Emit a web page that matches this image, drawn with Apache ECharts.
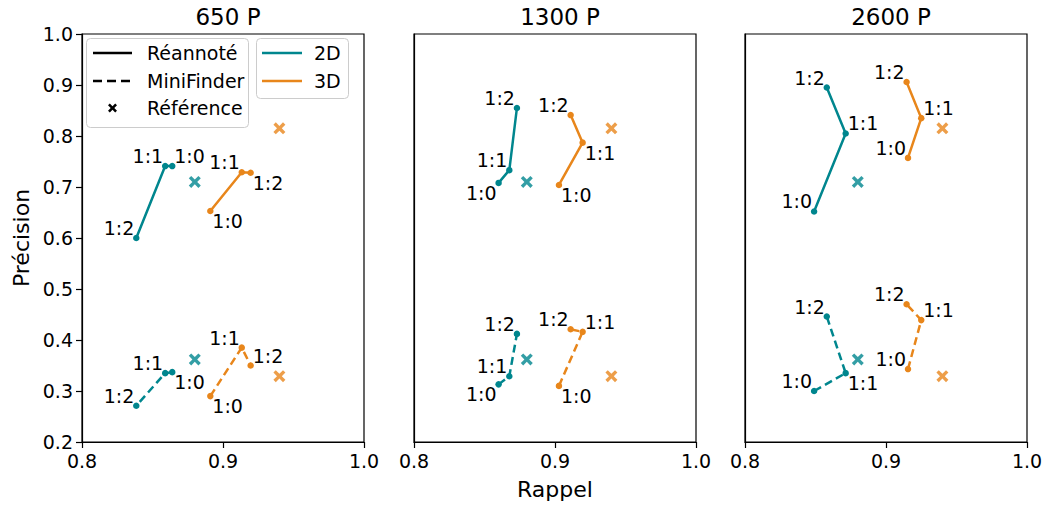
<!DOCTYPE html>
<html>
<head>
<meta charset="utf-8">
<script src="https://cdn.jsdelivr.net/npm/echarts@6/dist/echarts.min.js"></script>
<style>
  html, body { margin: 0; padding: 0; background: #ffffff; }
  #chart { width: 1047px; height: 507px; }
</style>
</head>
<body>
<div id="chart"></div>
<script>
// Panels: number of training pages
const panelTitles = ['650 P', '1300 P', '2600 P'];
// Point order along each curve
const ratios = ['1:0', '1:1', '1:2'];

// Réannoté (solid) — 2D
const recall2DReannote    = [[0.864, 0.859, 0.8385], [0.860, 0.8676, 0.873], [0.849, 0.8714, 0.858]];
const precision2DReannote = [[0.741, 0.741, 0.600],  [0.708, 0.733, 0.855],  [0.652, 0.805, 0.895]];
// Réannoté (solid) — 3D
const recall3DReannote    = [[0.891, 0.9133, 0.9196], [0.9028, 0.9196, 0.9111], [0.9156, 0.925, 0.9146]];
const precision3DReannote = [[0.653, 0.729, 0.728],   [0.704, 0.787, 0.841],    [0.757, 0.835, 0.906]];
// MiniFinder (dashed) — 2D
const recall2DMiniFinder    = [[0.864, 0.859, 0.8385], [0.860, 0.8676, 0.873], [0.849, 0.8714, 0.858]];
const precision2DMiniFinder = [[0.337, 0.335, 0.271],  [0.313, 0.329, 0.412],  [0.300, 0.335, 0.446]];
// MiniFinder (dashed) — 3D
const recall3DMiniFinder    = [[0.891, 0.9133, 0.9196], [0.9028, 0.9196, 0.9111], [0.9156, 0.925, 0.9146]];
const precision3DMiniFinder = [[0.290, 0.385, 0.350],   [0.310, 0.416, 0.421],    [0.343, 0.439, 0.470]];

// Référence markers: [2D, 3D]
const referenceRecall = [0.88, 0.94];
const referencePrecisionReannote = [0.710, 0.815];
const referencePrecisionMiniFinder = [0.362, 0.329];

// Axis ticks
const recallTicks = [0.8, 0.9, 1.0];
const precisionTicks = [0.2, 0.3, 0.4, 0.5, 0.6, 0.7, 0.8, 0.9, 1.0];

// Where each ratio label sits around its point (u/l = above/below, l/r = left/right)
const sides2DReannote   = [['ur', 'ul', 'ul'], ['ll', 'ul', 'ul'], ['ul', 'ur', 'ul']];
const sides3DReannote   = [['lr', 'ul', 'lr'], ['lr', 'lr', 'ul'], ['ul', 'ur', 'ul']];
const sides2DMiniFinder = [['lr', 'ul', 'ul'], ['ll', 'ul', 'ul'], ['ul', 'lr', 'ul']];
const sides3DMiniFinder = [['lr', 'ul', 'ur'], ['lr', 'ur', 'ul'], ['ul', 'ur', 'ul']];

const TEAL = '#00868e';
const ORANGE = '#e8861b';
const FONT = 'DejaVu Sans';
const LINE_W = 2.5;
const DASH = [8, 4.5];
const CROSS_POINTS = [[0,2],[2,0],[5,3],[8,0],[10,2],[7,5],[10,8],[8,10],[5,7],[2,10],[0,8],[3,5]];
const CROSS = 'path://M' + CROSS_POINTS.map((p) => p.join(',')).join('L') + 'Z';

const gridLefts = [82, 414, 745];
const gridWidth = 282;
const gridTop = 34;
const gridHeight = 408;

function labelFor(side) {
  const up = side[0] === 'u';
  const right = side[1] === 'r';
  return {
    show: true,
    position: 'inside',
    align: right ? 'left' : 'right',
    verticalAlign: 'middle',
    offset: [right ? 2 : -2, up ? -10 : 10],
    color: '#000000',
    textBorderWidth: 0,
    fontFamily: FONT,
    fontSize: 19
  };
}

function curve(p, name, xs, ys, sides, color, dashed) {
  return {
    type: 'line',
    name: name,
    xAxisIndex: p,
    yAxisIndex: p,
    data: xs[p].map((x, i) => ({ value: [x, ys[p][i]], label: labelFor(sides[p][i]) })),
    label: { show: true, formatter: (d) => ratios[d.dataIndex] },
    symbol: 'circle',
    symbolSize: 6.5,
    showSymbol: true,
    lineStyle: { color: color, width: LINE_W, type: dashed ? DASH : 'solid' },
    itemStyle: { color: color },
    emphasis: { disabled: true },
    animation: false,
    z: 3
  };
}

function references(p) {
  const colors = [TEAL, ORANGE];
  const data = [];
  for (let k = 0; k < referenceRecall.length; k++) {
    data.push({ value: [referenceRecall[k], referencePrecisionReannote[k]], itemStyle: { color: colors[k] } });
    data.push({ value: [referenceRecall[k], referencePrecisionMiniFinder[k]], itemStyle: { color: colors[k] } });
  }
  return {
    type: 'scatter',
    name: 'Référence',
    xAxisIndex: p,
    yAxisIndex: p,
    data: data,
    symbol: CROSS,
    symbolSize: 12,
    emphasis: { disabled: true },
    animation: false,
    z: 4
  };
}

const grids = [], xAxes = [], yAxes = [], titles = [], series = [];
for (let p = 0; p < panelTitles.length; p++) {
  grids.push({
    left: gridLefts[p], top: gridTop, width: gridWidth, height: gridHeight,
    show: true, borderColor: '#000000', borderWidth: 1.2, backgroundColor: '#ffffff'
  });
  xAxes.push({
    type: 'value', gridIndex: p,
    min: recallTicks[0], max: recallTicks[recallTicks.length - 1], interval: 0.1,
    name: p === 1 ? 'Rappel' : '',
    nameLocation: 'middle', nameGap: 36,
    nameTextStyle: { fontFamily: FONT, fontSize: 22, color: '#000000' },
    axisLine: { show: true, onZero: false, lineStyle: { color: '#000000', width: 1.2 } },
    axisTick: { show: true, length: 6, lineStyle: { color: '#000000', width: 1.2 } },
    axisLabel: { fontFamily: FONT, fontSize: 19, color: '#000000', margin: 9,
                 formatter: (v) => v.toFixed(1) },
    splitLine: { show: false }
  });
  yAxes.push({
    type: 'value', gridIndex: p,
    min: precisionTicks[0], max: precisionTicks[precisionTicks.length - 1], interval: 0.1,
    name: p === 0 ? 'Précision' : '',
    nameLocation: 'middle', nameGap: 50,
    nameTextStyle: { fontFamily: FONT, fontSize: 22, color: '#000000' },
    axisLine: { show: true, onZero: false, lineStyle: { color: '#000000', width: 1.2 } },
    axisTick: { show: p === 0, length: 6, lineStyle: { color: '#000000', width: 1.2 } },
    axisLabel: { show: p === 0, fontFamily: FONT, fontSize: 19, color: '#000000', margin: 9,
                 formatter: (v) => v.toFixed(1) },
    splitLine: { show: false }
  });
  titles.push({
    text: panelTitles[p],
    left: gridLefts[p] + gridWidth / 2,
    top: 0,
    textAlign: 'center',
    textStyle: { fontFamily: FONT, fontSize: 23, fontWeight: 'normal', color: '#000000' }
  });
  series.push(curve(p, 'Réannoté 2D', recall2DReannote, precision2DReannote, sides2DReannote, TEAL, false));
  series.push(curve(p, 'Réannoté 3D', recall3DReannote, precision3DReannote, sides3DReannote, ORANGE, false));
  series.push(curve(p, 'MiniFinder 2D', recall2DMiniFinder, precision2DMiniFinder, sides2DMiniFinder, TEAL, true));
  series.push(curve(p, 'MiniFinder 3D', recall3DMiniFinder, precision3DMiniFinder, sides3DMiniFinder, ORANGE, true));
  series.push(references(p));
}

// Two legend boxes in the first panel: line style / marker, and colour
const legendText = (x, y, s) => ({
  type: 'text', x: x, y: y, z: 20,
  style: { text: s, fill: '#000000', font: '19px "DejaVu Sans"', textVerticalAlign: 'middle', textAlign: 'left' }
});
const legendLine = (x1, x2, y, color, dash) => ({
  type: 'line', z: 20,
  shape: { x1: x1, y1: y, x2: x2, y2: y },
  style: { stroke: color, lineWidth: LINE_W, lineDash: dash }
});
const crossAt = (cx, cy, size) => ({
  type: 'polygon', z: 20,
  shape: { points: CROSS_POINTS.map(([a, b]) => [cx + (a - 5) * size / 10, cy + (b - 5) * size / 10]) },
  style: { fill: '#000000' }
});
const legendGraphics = [
  { type: 'rect', z: 19, shape: { x: 86.5, y: 38.5, width: 162, height: 89, r: 4 },
    style: { fill: 'rgba(255,255,255,0.8)', stroke: '#cccccc', lineWidth: 1 } },
  legendLine(93, 132, 53, '#000000', null),
  legendText(147, 53, 'Réannoté'),
  legendLine(93, 132, 81, '#000000', [9, 5]),
  legendText(147, 81, 'MiniFinder'),
  crossAt(112.5, 108, 9),
  legendText(147, 108, 'Référence'),
  { type: 'rect', z: 19, shape: { x: 256.5, y: 38.5, width: 92, height: 60, r: 4 },
    style: { fill: 'rgba(255,255,255,0.8)', stroke: '#cccccc', lineWidth: 1 } },
  legendLine(262, 302, 53, TEAL, null),
  legendText(314, 53, '2D'),
  legendLine(262, 302, 81, ORANGE, null),
  legendText(314, 81, '3D')
];

const chart = echarts.init(document.getElementById('chart'), null, { renderer: 'svg' });
chart.setOption({
  animation: false,
  backgroundColor: '#ffffff',
  title: titles,
  grid: grids,
  xAxis: xAxes,
  yAxis: yAxes,
  series: series,
  graphic: legendGraphics
});
</script>
</body>
</html>
